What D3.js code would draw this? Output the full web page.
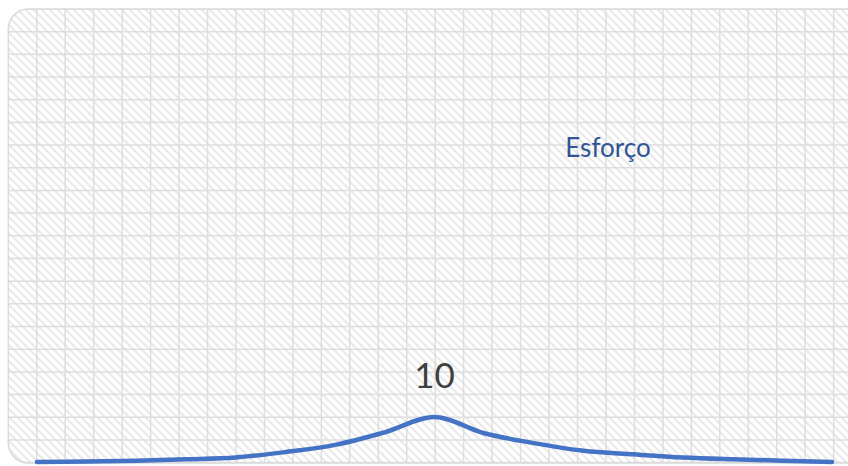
<!DOCTYPE html>
<html>
<head>
<meta charset="utf-8">
<script src="https://cdn.jsdelivr.net/npm/d3@7"></script>
<style>
  html, body { margin: 0; padding: 0; background: #ffffff; }
  svg { display: block; }
</style>
</head>
<body>
<svg id="chart" width="848" height="466"></svg>
<script>
// ---- data ----
const categories = d3.range(1, 18).map(String);          // 17 points along the x axis
const esforcoValues = [0, 0.1, 0.3, 0.6, 1.0, 2.2, 3.8, 6.6, 10, 6.4, 4.2, 2.5, 1.7, 1.0, 0.6, 0.3, 0];
const seriesName = "Esforço";
const labeledIndex = 8;                                   // the peak carries the data label "10"

// ---- layout ----
const W = 848, H = 466;
const svg = d3.select("#chart");

const frame = { x: 8.3, y: 9, w: 860, h: 454, r: 20 };

const defs = svg.append("defs");
defs.append("clipPath").attr("id", "frameClip")
  .append("rect")
  .attr("x", frame.x).attr("y", frame.y)
  .attr("width", frame.w).attr("height", frame.h)
  .attr("rx", frame.r).attr("ry", frame.r);

// diagonal hatch pattern (downward diagonal)
const hatch = defs.append("pattern")
  .attr("id", "hatch")
  .attr("patternUnits", "userSpaceOnUse")
  .attr("width", 8).attr("height", 8);
hatch.append("rect").attr("width", 8).attr("height", 8).attr("fill", "#ffffff");
hatch.append("path")
  .attr("d", "M-2,-2 L10,10 M-2,6 L2,10 M6,-2 L10,2")
  .attr("stroke", "#eaeaea")
  .attr("stroke-width", 2.2);

const bg = svg.append("g").attr("clip-path", "url(#frameClip)");
bg.append("rect")
  .attr("x", frame.x).attr("y", frame.y)
  .attr("width", frame.w).attr("height", frame.h)
  .attr("fill", "url(#hatch)");

// grid of the pattern fill
const cellW = 28.46, cellH = 22.68;
const vx = d3.range(frame.x, W + cellW, cellW);
const hy = d3.range(frame.y, frame.y + frame.h + 1, cellH);
bg.append("g").selectAll("line.v").data(vx).join("line")
  .attr("x1", d => d).attr("x2", d => d)
  .attr("y1", frame.y).attr("y2", frame.y + frame.h)
  .attr("stroke", "#dedede").attr("stroke-width", 1.5);
bg.append("g").selectAll("line.h").data(hy).join("line")
  .attr("x1", frame.x).attr("x2", W + 20)
  .attr("y1", d => d).attr("y2", d => d)
  .attr("stroke", "#dedede").attr("stroke-width", 1.5);

// frame border
svg.append("rect")
  .attr("x", frame.x).attr("y", frame.y)
  .attr("width", frame.w).attr("height", frame.h)
  .attr("rx", frame.r).attr("ry", frame.r)
  .attr("fill", "none")
  .attr("stroke", "#d9d9d9").attr("stroke-width", 1.5);

// ---- scales ----
const x = d3.scalePoint().domain(categories).range([37, 832]);
const y = d3.scaleLinear().domain([0, 100]).range([462, 12]);

const data = categories.map((c, i) => ({ c, v: esforcoValues[i] }));

const line = d3.line()
  .x(d => x(d.c))
  .y(d => y(d.v))
  .curve(d3.curveCatmullRom.alpha(0.5));

svg.append("path")
  .datum(data)
  .attr("d", line)
  .attr("fill", "none")
  .attr("stroke", "#4472C4")
  .attr("stroke-width", 4.5)
  .attr("stroke-linecap", "round")
  .attr("stroke-linejoin", "round");

// data label
const peak = data[labeledIndex];
svg.append("text")
  .attr("x", x(peak.c))
  .attr("y", y(peak.v) - 29)
  .attr("text-anchor", "middle")
  .attr("font-family", "Lato, 'Open Sans', sans-serif")
  .attr("font-size", 35)
  .attr("fill", "#404040")
  .text(d3.format("d")(peak.v));

// series name label
svg.append("text")
  .attr("x", 608)
  .attr("y", 157)
  .attr("text-anchor", "middle")
  .attr("font-family", "Lato, 'Open Sans', sans-serif")
  .attr("font-size", 26)
  .attr("fill", "#2F5597")
  .text(seriesName);
</script>
</body>
</html>
